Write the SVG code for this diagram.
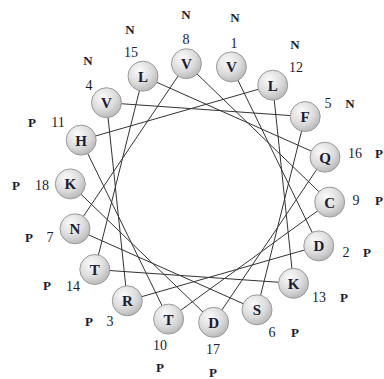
<svg xmlns="http://www.w3.org/2000/svg" width="384" height="379" viewBox="0 0 384 379">
<defs>
<radialGradient id="g" cx="0.38" cy="0.32" r="0.7">
<stop offset="0" stop-color="#fbfbfb"/>
<stop offset="0.6" stop-color="#dcdcdc"/>
<stop offset="1" stop-color="#b9b9b9"/>
</radialGradient>
</defs>
<style>
.n circle{fill:url(#g);stroke:#9a9a9a;stroke-width:1}
.n text{font-family:"Liberation Serif","DejaVu Serif",serif;font-weight:bold;font-size:15px;fill:#1b1b33;text-anchor:middle;dominant-baseline:central}
.num{font-family:"Liberation Serif","DejaVu Serif",serif;font-size:14px;fill:#1b1b33;text-anchor:middle;dominant-baseline:central}
.lab{font-family:"Liberation Serif","DejaVu Serif",serif;font-weight:bold;font-size:13px;fill:#1b1b33;text-anchor:middle;dominant-baseline:central}
.c line{stroke:#333;stroke-width:1}
</style>
<rect width="384" height="379" fill="#fff"/>
<g id="connectors" class="c">
<line x1="231.4" y1="66.9" x2="318.8" y2="245.9"/>
<line x1="318.8" y1="245.9" x2="127.3" y2="300.8"/>
<line x1="127.3" y1="300.8" x2="106.5" y2="102.7"/>
<line x1="106.5" y1="102.7" x2="305.2" y2="116.6"/>
<line x1="305.2" y1="116.6" x2="257.0" y2="309.8"/>
<line x1="257.0" y1="309.8" x2="75.0" y2="228.8"/>
<line x1="75.0" y1="228.8" x2="186.4" y2="63.7"/>
<line x1="186.4" y1="63.7" x2="329.7" y2="202.1"/>
<line x1="329.7" y1="202.1" x2="168.6" y2="319.1"/>
<line x1="168.6" y1="319.1" x2="81.2" y2="140.1"/>
<line x1="81.2" y1="140.1" x2="272.7" y2="85.2"/>
<line x1="272.7" y1="85.2" x2="293.5" y2="283.3"/>
<line x1="293.5" y1="283.3" x2="94.8" y2="269.5"/>
<line x1="94.8" y1="269.5" x2="143.0" y2="76.2"/>
<line x1="143.0" y1="76.2" x2="325.0" y2="157.2"/>
<line x1="325.0" y1="157.2" x2="213.6" y2="322.3"/>
<line x1="213.6" y1="322.3" x2="70.3" y2="183.9"/>
</g>
<g id="r1" class="n"><circle cx="231.4" cy="66.9" r="15"/><text x="231.4" y="67.4">V</text></g>
<g id="r2" class="n"><circle cx="318.8" cy="245.9" r="15"/><text x="318.8" y="246.4">D</text></g>
<g id="r3" class="n"><circle cx="127.3" cy="300.8" r="15"/><text x="127.3" y="301.3">R</text></g>
<g id="r4" class="n"><circle cx="106.5" cy="102.7" r="15"/><text x="106.5" y="103.2">V</text></g>
<g id="r5" class="n"><circle cx="305.2" cy="116.6" r="15"/><text x="305.2" y="117.1">F</text></g>
<g id="r6" class="n"><circle cx="257.0" cy="309.8" r="15"/><text x="257.0" y="310.3">S</text></g>
<g id="r7" class="n"><circle cx="75.0" cy="228.8" r="15"/><text x="75.0" y="229.3">N</text></g>
<g id="r8" class="n"><circle cx="186.4" cy="63.7" r="15"/><text x="186.4" y="64.2">V</text></g>
<g id="r9" class="n"><circle cx="329.7" cy="202.1" r="15"/><text x="329.7" y="202.6">C</text></g>
<g id="r10" class="n"><circle cx="168.6" cy="319.1" r="15"/><text x="168.6" y="319.6">T</text></g>
<g id="r11" class="n"><circle cx="81.2" cy="140.1" r="15"/><text x="81.2" y="140.6">H</text></g>
<g id="r12" class="n"><circle cx="272.7" cy="85.2" r="15"/><text x="272.7" y="85.7">L</text></g>
<g id="r13" class="n"><circle cx="293.5" cy="283.3" r="15"/><text x="293.5" y="283.8">K</text></g>
<g id="r14" class="n"><circle cx="94.8" cy="269.5" r="15"/><text x="94.8" y="270">T</text></g>
<g id="r15" class="n"><circle cx="143.0" cy="76.2" r="15"/><text x="143.0" y="76.7">L</text></g>
<g id="r16" class="n"><circle cx="325.0" cy="157.2" r="15"/><text x="325.0" y="157.7">Q</text></g>
<g id="r17" class="n"><circle cx="213.6" cy="322.3" r="15"/><text x="213.6" y="322.8">D</text></g>
<g id="r18" class="n"><circle cx="70.3" cy="183.9" r="15"/><text x="70.3" y="184.4">K</text></g>
<g id="labels">
<text class="num" x="234" y="43">1</text><text class="lab" x="235" y="17">N</text>
<text class="num" x="186" y="39">8</text><text class="lab" x="186" y="14">N</text>
<text class="num" x="131" y="52">15</text><text class="lab" x="130" y="29">N</text>
<text class="num" x="89" y="85">4</text><text class="lab" x="88" y="60">N</text>
<text class="num" x="296" y="67">12</text><text class="lab" x="295" y="44">N</text>
<text class="num" x="328" y="103">5</text><text class="lab" x="350" y="103">N</text>
<text class="num" x="355" y="153">16</text><text class="lab" x="379" y="153">P</text>
<text class="num" x="356" y="200">9</text><text class="lab" x="379" y="200">P</text>
<text class="num" x="346" y="252">2</text><text class="lab" x="367" y="252">P</text>
<text class="num" x="319" y="297">13</text><text class="lab" x="344" y="297">P</text>
<text class="num" x="272" y="332">6</text><text class="lab" x="295" y="332">P</text>
<text class="num" x="213" y="349">17</text><text class="lab" x="213" y="372">P</text>
<text class="num" x="160" y="345">10</text><text class="lab" x="160" y="367">P</text>
<text class="num" x="110" y="321">3</text><text class="lab" x="89" y="321">P</text>
<text class="num" x="73" y="286">14</text><text class="lab" x="47" y="285">P</text>
<text class="num" x="50" y="237">7</text><text class="lab" x="29" y="237">P</text>
<text class="num" x="42" y="185">18</text><text class="lab" x="16" y="185">P</text>
<text class="num" x="58" y="122">11</text><text class="lab" x="32" y="122">P</text>
</g>
</svg>
